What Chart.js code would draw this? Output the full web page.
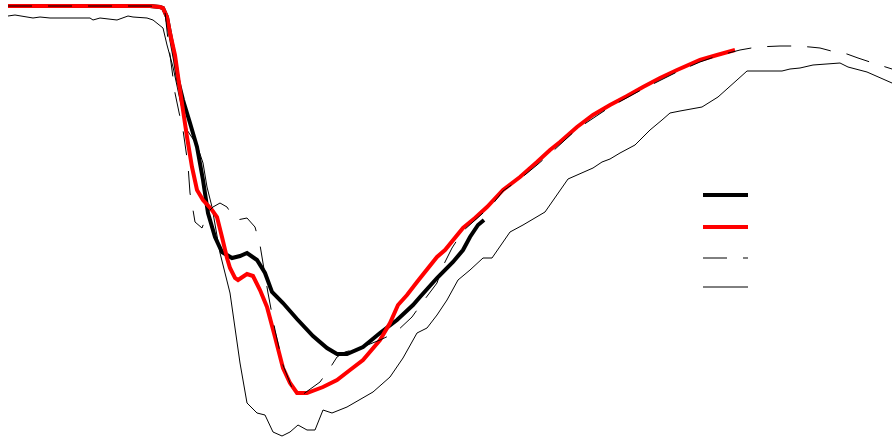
<!DOCTYPE html>
<html>
<head>
<meta charset="utf-8">
<script src="https://cdn.jsdelivr.net/npm/chart.js@4/dist/chart.umd.min.js"></script>
<style>
  html, body { margin: 0; padding: 0; background: #fff; }
  #wrap { width: 893px; height: 441px; }
</style>
</head>
<body>
<div id="wrap"><canvas id="profileChart" width="893" height="441"></canvas></div>
<script>
// series as [x, depth] pairs (depth axis points down)
const thickBlack = [
  [0.8,0.6],[15,0.6],[16,0.7],[16.3,0.8],[16.7,1.7],[17,3.3],[17.5,6],[17.8,8],[18.3,10],[19,12.3],
  [19.7,14.7],[20.3,18],[20.8,21.3],[21.5,23.7],[22.2,25.2],[23.2,25.8],[24,25.6],[24.7,25.3],[25.7,26],
  [26.5,27.3],[27.2,29.2],[28.3,30.3],[29.7,31.9],[31.3,33.6],[32.7,34.8],[33.7,35.4],[34.7,35.4],
  [36.3,34.7],[38,33.3],[39.7,32],[41.3,30.5],[42,29.7],[43.7,27.8],[45.3,26.2],[46.3,25],[47,23.7],
  [47.8,22.5],[48.4,22]
];

const redLine = [
  [0.8,0.6],[6,0.6],[10,0.6],[15,0.6],[16,0.7],[16.3,0.8],[16.7,1.7],[17,3.3],[17.5,5.5],[18,9],
  [18.7,13.7],[19.2,16.7],[19.7,19],[20.3,20],[21.2,21],[21.7,21.7],[22.2,23.7],[22.7,25.8],[23,26.8],
  [23.5,27.8],[23.8,28],[24.7,27.4],[25.3,27.6],[26,29],[26.7,30.7],[27.5,33.7],[28.3,36.8],[29,38.3],
  [29.7,39.3],[30.7,39.3],[32.3,38.7],[33.7,38],[35,37],[36.3,36],[38,34],[39,32.3],[39.8,30.5],
  [40.7,29.5],[41.7,28.2],[43.7,25.7],[44.5,25],[46.3,22.8],[47.5,21.8],[48.7,20.7],[50.3,19],
  [52,17.7],[53.7,16.2],[55,15],[56,14.2],[57.7,12.7],[59.3,11.5],[61,10.5],[62.7,9.6],[64.3,8.7],
  [66,7.8],[67.7,7],[70,6],[71.7,5.5],[73.5,5]
];

const dashedLine = [
  [0.8,0.6],[15,0.6],[16,0.7],[16.5,1.2],[16.8,4],[17.2,7],[17.5,9.3],[18,11.7],[18.3,13],[18.8,16.5],
  [19,19.3],[19.3,21],[19.5,22.2],[20.2,22.8],[20.8,21.2],[21.3,20.7],[22,20.3],[22.7,20.7],[23.2,21.5],
  [23.7,22],[24.7,21.8],[25.5,22.7],[26,24.5],[26.8,29.3],[27.5,33],[28.3,36.5],[29.2,38.8],[30.2,39.5],
  [32,38.2],[33,36.8],[33.7,35.7],[34.5,35.2],[36,34.8],[38,34],[39.5,33.3],[41.2,31.7],[42.2,30.3],
  [43.7,28.3],[44.2,26.8],[45.2,24.8],[46.3,23.1],[47.3,22.2],[49.2,20.5],[50.3,19.1],[52,17.9],
  [53.7,16.5],[55.2,15.2],[57.7,12.9],[61,10.7],[64.3,8.9],[67.7,7.2],[70,6.2],[71.7,5.6],[74,5],
  [75.7,4.7],[78,4.6],[79.7,4.6],[81,4.7],[82,4.8],[83.5,5.2],[84.7,5.4],[85.8,5.8],[87.3,6.3],[89.2,6.9]
];

const thinLine = [
  [0.8,1.6],[1.5,1.5],[3.3,1.8],[4,1.7],[5,1.8],[9,1.8],[9.3,2],[10,1.8],[11.7,2],[12.8,1.6],[13.3,1.7],
  [14.7,1.8],[15.3,2],[16.3,2.8],[16.7,4.5],[17.3,6.7],[18,10],[18.7,13],[19.7,14.5],[20.3,16.3],
  [20.7,18.7],[21.2,20.7],[22,25.3],[23,29.3],[24,36.3],[24.7,40.3],[25.7,41.3],[26.5,41.5],[27.3,43.2],
  [28.2,43.6],[29,43.2],[29.8,42.5],[30.7,43],[31.5,43],[32.3,41],[33.2,41.3],[34.7,40.7],[37.3,39.2],
  [39,37.7],[40.3,35.8],[41.7,33.3],[42.7,32.8],[43.7,31.5],[44.7,30],[45.8,28],[47,27],[48.3,25.8],
  [49.2,25.8],[51,23.2],[52.3,22.5],[54.5,21.2],[56.8,17.9],[59.3,16.8],[60.2,16.2],[61,15.9],[62,15.3],
  [63.5,14.5],[65,13],[66.2,12],[67,11.3],[68,11.1],[70.2,10.7],[71.8,9.7],[73.7,8],[74.7,7.1],
  [78.2,7.1],[79,6.9],[80,6.8],[81.3,6.5],[84,6.3],[84.8,6.7],[86.7,7.2],[89.2,8.3]
];

const toPoints = arr => arr.map(p => ({ x: p[0], y: p[1] }));

// legend: just line samples, no labels
const legendSamples = {
  id: 'legendSamples',
  afterDraw(chart) {
    const ctx = chart.ctx;
    const rows = [0, 1, 2, 3];
    const ys = [195, 227, 258, 287];
    rows.forEach((di, i) => {
      const ds = chart.data.datasets[di];
      ctx.save();
      ctx.strokeStyle = ds.borderColor;
      ctx.lineWidth = ds.borderWidth;
      ctx.setLineDash(ds.borderDash || []);
      ctx.beginPath();
      ctx.moveTo(703, ys[i]);
      ctx.lineTo(748, ys[i]);
      ctx.stroke();
      ctx.restore();
    });
  }
};

new Chart(document.getElementById('profileChart'), {
  type: 'scatter',
  data: {
    datasets: [
      { label: '', data: toPoints(thickBlack), borderColor: '#000000', borderWidth: 4, order: 2 },
      { label: '', data: toPoints(redLine), borderColor: '#ff0000', borderWidth: 4, order: 1 },
      { label: '', data: toPoints(dashedLine), borderColor: '#000000', borderWidth: 1, borderDash: [24, 16], order: 0 },
      { label: '', data: toPoints(thinLine), borderColor: '#000000', borderWidth: 1, order: 3 }
    ]
  },
  options: {
    responsive: false,
    animation: false,
    events: [],
    layout: { padding: 0 },
    datasets: {
      scatter: { showLine: true, pointRadius: 0, tension: 0, clip: false, fill: false }
    },
    scales: {
      x: { type: 'linear', min: 0, max: 89.3, display: false },
      y: { type: 'linear', min: 0, max: 44.1, reverse: true, display: false }
    },
    plugins: {
      legend: { display: false },
      tooltip: { enabled: false }
    }
  },
  plugins: [legendSamples]
});
</script>
</body>
</html>
